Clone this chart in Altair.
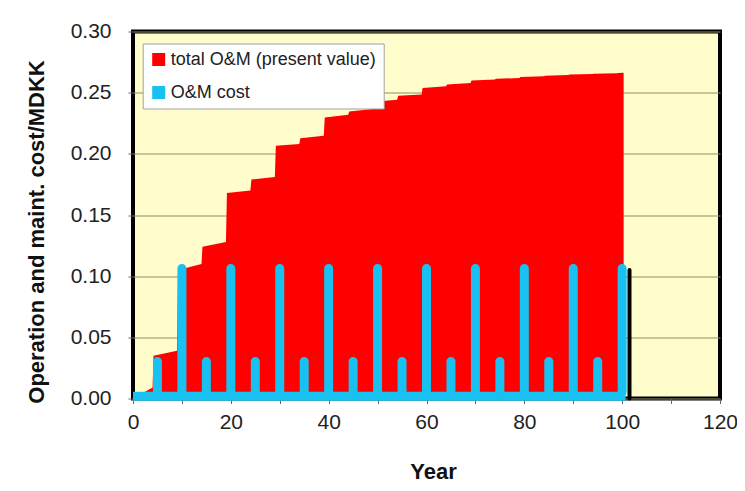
import altair as alt
import pandas as pd

# ---- data ----
step_years = [0, 5, 10, 15, 20, 25, 30, 35, 40, 45, 50, 55, 60, 65, 70, 75, 80, 85, 90, 95, 100]
pv_level_start = [0.000, 0.035, 0.105, 0.124, 0.168, 0.179, 0.2066, 0.2128, 0.2298, 0.2347, 0.2425,
                  0.2475, 0.2538, 0.2566, 0.2600, 0.2613, 0.2628, 0.2638, 0.2648, 0.2654, 0.2660]
pv_level_end = [0.009, 0.039, 0.110, 0.128, 0.170, 0.181, 0.2080, 0.2148, 0.2320, 0.2366, 0.2443,
                0.2485, 0.2552, 0.2580, 0.2608, 0.2620, 0.2634, 0.2644, 0.2652, 0.2658, 0.2662]

cost_years = [5, 10, 15, 20, 25, 30, 35, 40, 45, 50, 55, 60, 65, 70, 75, 80, 85, 90, 95, 100]
cost_values = [0.034, 0.110, 0.034, 0.110, 0.034, 0.110, 0.034, 0.110, 0.034, 0.110,
               0.034, 0.110, 0.034, 0.110, 0.034, 0.110, 0.034, 0.110, 0.034, 0.110]

annual_years = [0, 100.7]
annual_values = [0.0018, 0.0018]

end_years = [101.5]
end_values = [0.105]

x_ticks = [0, 10, 20, 30, 40, 50, 60, 70, 80, 90, 100, 110, 120]
y_ticks = [0.0, 0.05, 0.10, 0.15, 0.20, 0.25, 0.30]

S_PV = "total O&M (present value)"
S_COST = "O&M cost"
FONT = "Liberation Sans"

# ---- tables ----
rows = []
for y, a, b in zip(step_years, pv_level_start, pv_level_end):
    x0 = max(0.0, y - 0.8)
    x1 = min(y + 4.0, 100.3)
    rows.append({"year": x0, "value": a, "series": S_PV})
    rows.append({"year": x1, "value": b, "series": S_PV})
pv_df = pd.DataFrame(rows)

cost_df = pd.DataFrame({"year": cost_years, "value": cost_values, "base": 0.0018, "series": S_COST})
annual_df = pd.DataFrame({"year": annual_years, "value": annual_values})
end_df = pd.DataFrame({"year": end_years, "value": end_values, "base": 0.0})

color = alt.Color(
    "series:N",
    scale=alt.Scale(domain=[S_PV, S_COST], range=["#ff0000", "#19c1f1"]),
    legend=alt.Legend(
        orient="none", legendX=9.7, legendY=12, title=None,
        fillColor="white", strokeColor="#a0a0a0", padding=7,
        symbolType="square", symbolSize=169, symbolStrokeWidth=0,
        labelFontSize=18, labelFont=FONT, labelColor="#222222",
        labelLimit=400, labelOffset=3, rowPadding=15,
    ),
)

x_scale = alt.Scale(domain=[0, 120], nice=False, zero=False, padding=0)
x_enc = alt.X(
    "year:Q",
    scale=x_scale,
    axis=alt.Axis(
        title="Year", values=x_ticks,
        labelExpr="datum.value % 20 == 0 ? datum.label : ''",
        grid=False, domain=False, tickSize=5, tickColor="#666666",
        labelFontSize=21, labelFont=FONT, labelColor="#222222",
        labelPadding=8, labelFlush=False, labelOverlap=False,
        titleFontSize=22, titleFont=FONT, titleFontWeight="bold", titleColor="#111111",
        titleX=300, titleY=63, titleBaseline="top",
    ),
)
y_scale = alt.Scale(domain=[0, 0.30], nice=False, zero=False, padding=0)
y_axis = alt.Axis(
    title="Operation and maint. cost/MDKK", values=y_ticks, format=".2f",
    grid=True, gridColor="#8f8f6a", gridWidth=1,
    domain=False, tickSize=5, tickColor="#666666",
    labelFontSize=21, labelFont=FONT, labelColor="#222222", labelPadding=17,
    titleFontSize=22, titleFont=FONT, titleFontWeight="bold", titleColor="#111111",
    titleAngle=270, titleX=-97, titleY=200, titleAlign="center", titleBaseline="middle",
)

area = alt.Chart(pv_df).mark_area(interpolate="linear", opacity=1).encode(
    x=x_enc,
    y=alt.Y("value:Q", scale=y_scale, axis=y_axis),
    color=color,
)

baseline = alt.Chart(annual_df).mark_line(color="#19c1f1", strokeWidth=9, strokeCap="butt").encode(
    x=alt.X("year:Q", scale=x_scale), y=alt.Y("value:Q", scale=y_scale),
)

bars = alt.Chart(cost_df).mark_bar(width=9, cornerRadiusEnd=4.5, opacity=1).encode(
    x=alt.X("year:Q", scale=x_scale), y=alt.Y("value:Q", scale=y_scale), y2="base:Q", color=color,
)

end_rule = alt.Chart(end_df).mark_rule(color="black", strokeWidth=4, strokeCap="round").encode(
    x=alt.X("year:Q", scale=x_scale), y=alt.Y("value:Q", scale=y_scale), y2="base:Q",
)

chart = alt.layer(area, baseline, bars, end_rule).properties(
    width=587, height=367,
    autosize=alt.AutoSizeParams(type="none"),
    padding={"left": 125, "top": 23.5, "right": 17, "bottom": 84},
    background="white",
).configure_view(
    fill="#fffdcc", stroke="black", strokeWidth=4,
)

chart.save("out.html", embed_options={"renderer": "svg", "actions": False})
